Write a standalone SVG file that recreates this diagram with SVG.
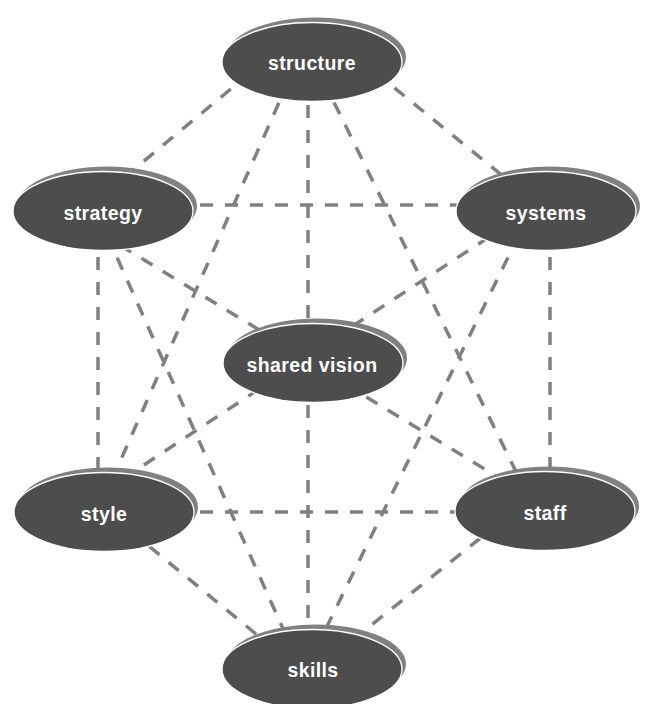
<svg xmlns="http://www.w3.org/2000/svg" width="647" height="704" viewBox="0 0 647 704">
<style>
.bg{fill:#ffffff}
.edge{stroke:#808080;stroke-width:3.5;stroke-dasharray:13 12;fill:none}
.sh{fill:#808080}
.nd{fill:#4d4d4d;stroke:#ffffff;stroke-width:1.3}
.lb{fill:#ffffff;font-family:"Liberation Sans",Arial,sans-serif;font-weight:bold;font-size:19.5px;letter-spacing:0.4px;text-anchor:middle}
</style>
<rect class="bg" x="0" y="0" width="647" height="704"/>
<g id="connectors">
<line class="edge" x1="250" y1="73" x2="120" y2="181"/>
<line class="edge" x1="375" y1="72" x2="520" y2="190"/>
<line class="edge" x1="308" y1="80" x2="308" y2="345"/>
<line class="edge" x1="289" y1="80" x2="103" y2="500"/>
<line class="edge" x1="323" y1="80" x2="530" y2="500"/>
<line class="edge" x1="150" y1="205" x2="500" y2="205"/>
<line class="edge" x1="98" y1="232" x2="98" y2="495"/>
<line class="edge" x1="120" y1="245.3" x2="280" y2="342.5"/>
<line class="edge" x1="107" y1="235" x2="297" y2="660"/>
<line class="edge" x1="510" y1="223.4" x2="340" y2="334.3"/>
<line class="edge" x1="519" y1="235" x2="310.5" y2="660"/>
<line class="edge" x1="550" y1="232" x2="550" y2="495"/>
<line class="edge" x1="280" y1="375.2" x2="115" y2="484"/>
<line class="edge" x1="345" y1="384" x2="510" y2="484.5"/>
<line class="edge" x1="308" y1="380" x2="308" y2="650"/>
<line class="edge" x1="150" y1="512" x2="500" y2="512"/>
<line class="edge" x1="130" y1="530.6" x2="270" y2="645.5"/>
<line class="edge" x1="500" y1="522.5" x2="340" y2="650"/>
</g>
<g id="node-structure">
<ellipse class="sh" cx="316" cy="57" rx="90" ry="39.5"/>
<ellipse class="nd" cx="312" cy="62" rx="90" ry="39.5"/>
<text class="lb" x="312" y="69.5">structure</text>
</g>
<g id="node-strategy">
<ellipse class="sh" cx="107" cy="206" rx="90" ry="39.5"/>
<ellipse class="nd" cx="103" cy="211" rx="90" ry="39.5"/>
<text class="lb" x="103" y="220">strategy</text>
</g>
<g id="node-systems">
<ellipse class="sh" cx="550" cy="206" rx="90" ry="39.5"/>
<ellipse class="nd" cx="546" cy="211" rx="90" ry="39.5"/>
<text class="lb" x="546" y="220">systems</text>
</g>
<g id="node-shared-vision">
<ellipse class="sh" cx="317" cy="358" rx="90" ry="39.5"/>
<ellipse class="nd" cx="313" cy="363" rx="90" ry="39.5"/>
<text class="lb" x="312" y="372">shared vision</text>
</g>
<g id="node-style">
<ellipse class="sh" cx="108" cy="507" rx="90" ry="39.5"/>
<ellipse class="nd" cx="104" cy="512" rx="90" ry="39.5"/>
<text class="lb" x="104" y="521">style</text>
</g>
<g id="node-staff">
<ellipse class="sh" cx="549" cy="506" rx="90" ry="39.5"/>
<ellipse class="nd" cx="545" cy="511" rx="90" ry="39.5"/>
<text class="lb" x="545" y="520">staff</text>
</g>
<g id="node-skills">
<ellipse class="sh" cx="316" cy="664" rx="90" ry="39.5"/>
<ellipse class="nd" cx="312" cy="669" rx="90" ry="39.5"/>
<text class="lb" x="313" y="677">skills</text>
</g>
</svg>
